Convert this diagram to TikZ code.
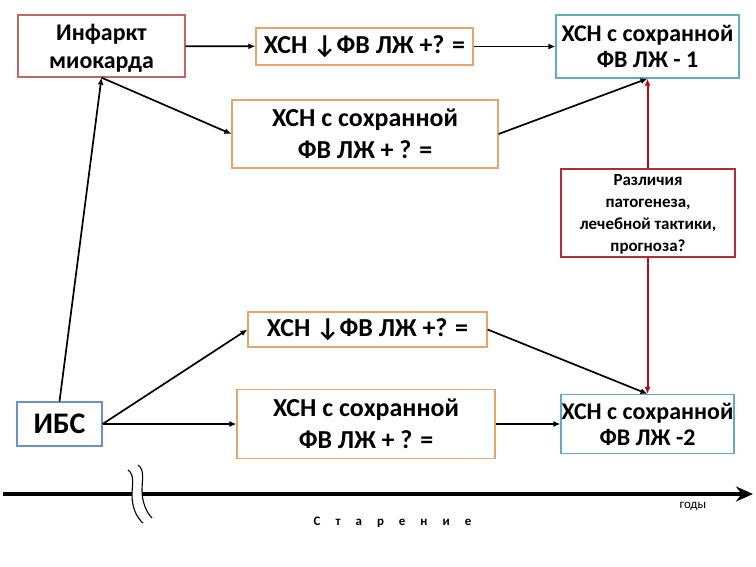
\documentclass[tikz,border=0pt]{standalone}
\usepackage{amsmath,amssymb}
\usepackage{fontspec}
\setmainfont{Carlito}
\usepackage{xcolor}
\usepackage{tikz}
\usetikzlibrary{arrows.meta}
\definecolor{infred}{RGB}{190,105,95}
\definecolor{hfvorange}{RGB}{232,165,105}
\definecolor{hsteal}{RGB}{95,172,195}
\definecolor{ibsblue}{RGB}{105,145,200}
\definecolor{diffred}{RGB}{175,45,55}
\definecolor{arrred}{RGB}{185,10,20}

\begin{document}
\begin{tikzpicture}[x=10bp,y=-10bp,
    box/.style={draw,line width=1.2bp,fill=white,align=center,inner sep=0pt},
    twoline/.style={box,text depth=0pt},
    link/.style={line width=1.7bp,-{Latex[length=7bp,width=6bp]}}]
  \useasboundingbox (0,0) rectangle (75.6,56.7);
  % top row
  \node[twoline,draw=infred,minimum width=167bp,minimum height=62bp,
        font=\bfseries\fontsize{24}{28}\selectfont] (inf) at (10.15,4.6) {Инфаркт\\миокарда};
  \node[box,draw=hfvorange,minimum width=217bp,minimum height=37bp,
        font=\bfseries\fontsize{26}{30}\selectfont] (hfv1) at (36.45,4.65) {ХСН ↓ФВ ЛЖ +? =};
  \node[twoline,draw=hsteal,minimum width=183bp,minimum height=63bp,
        font=\bfseries\fontsize{24}{26}\selectfont] (hs1) at (64.75,4.65) {ХСН с сохранной\\ФВ ЛЖ - 1};
  \node[twoline,draw=hfvorange,minimum width=266bp,minimum height=68bp,
        font=\bfseries\fontsize{26}{32}\selectfont] (hp1) at (36.5,13.4) {ХСН с сохранной\\ФВ ЛЖ + ? =};
  % bottom row
  \node[box,draw=hfvorange,minimum width=239bp,minimum height=35bp,
        font=\bfseries\fontsize{26}{30}\selectfont] (hfv2) at (36.75,32.95) {ХСН ↓ФВ ЛЖ +? =};
  \node[box,draw=ibsblue,minimum width=85bp,minimum height=44bp,
        font=\bfseries\fontsize{30}{34}\selectfont] (ibs) at (5.95,42.4) {ИБС};
  \node[twoline,draw=hfvorange,minimum width=258bp,minimum height=69bp,
        font=\bfseries\fontsize{26}{32}\selectfont] (hp2) at (36.6,42.4) {ХСН с сохранной\\ФВ ЛЖ + ? =};
  \node[twoline,draw=hsteal,minimum width=173bp,minimum height=59bp,
        font=\bfseries\fontsize{24}{26}\selectfont] (hs2) at (64.75,42.4) {ХСН с сохранной\\ФВ ЛЖ -2};
  % links
  \draw[link] (inf) -- (hfv1);
  \draw[link] (hfv1) -- (hs1);
  \draw[link] (inf.south) -- (hp1.west);
  \draw[link] (hp1.east) -- (hs1.south);
  \draw[link] (ibs.north) -- (inf.south);
  \draw[link] (ibs.east) -- (hfv2.west);
  \draw[link] (ibs.east) -- (hp2.west);
  \draw[link] (hfv2.east) -- (hs2.north);
  \draw[link] (hp2.east) -- (hs2.west);
  \draw[line width=2bp,arrred,{Latex[length=7bp,width=6bp]}-{Latex[length=7bp,width=6bp]}]
    (hs1.south) -- (hs2.north);
  \node[twoline,draw=diffred,minimum width=174bp,minimum height=88bp,
        font=\bfseries\fontsize{17}{22}\selectfont] (diff) at (64.8,21.3)
        {Различия\\патогенеза,\\лечебной тактики,\\прогноза?};
  % time axis
  \draw[line width=4bp] (0.3,49.4) -- (13.2,49.4);
  \draw[line width=4bp,-{Stealth[length=17bp,width=15bp]}] (14.2,49.4) -- (75.3,49.4);
  \draw[line width=1.1bp] (12.8,47.0) .. controls (13.5,47.5) and (13.2,48.5) .. (13.2,49.5)
    .. controls (13.2,50.8) and (13.7,51.8) .. (14.3,52.3);
  \draw[line width=1.1bp] (13.8,46.5) .. controls (14.5,47.0) and (14.2,48.0) .. (14.2,49.0)
    .. controls (14.2,50.3) and (14.7,51.3) .. (15.2,51.8);
  \node[font=\fontsize{13}{15}\selectfont] (years) at (69.3,50.6) {годы};
  \node[font=\bfseries\fontsize{13}{15}\selectfont] (aging) at (39.25,52.2)
    {\spaceskip=15bp\relax С т а р е н и е};
\end{tikzpicture}
\end{document}
